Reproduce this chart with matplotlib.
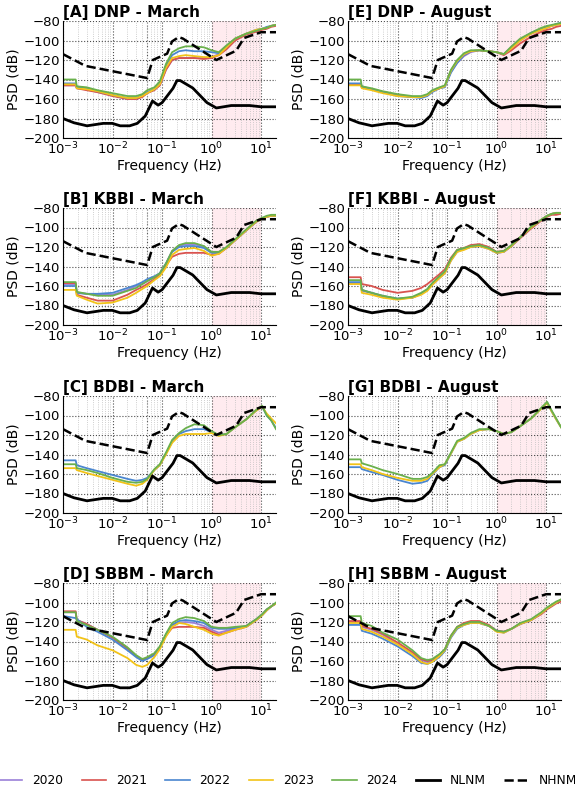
import matplotlib
matplotlib.use("Agg")
import matplotlib.pyplot as plt
from matplotlib.lines import Line2D

# ---------------- data ----------------
freq = [0.00105, 0.0018, 0.0019, 0.003, 0.005, 0.01, 0.02, 0.03, 0.04, 0.05,
        0.07, 0.09, 0.12, 0.16, 0.22, 0.3, 0.45, 0.7, 1.0, 1.4,
        2.0, 3.0, 5.0, 8.0, 10.5, 13.0, 16.0, 20.0]

years = ["2020", "2021", "2022", "2023", "2024"]
year_colors = ["#9b80d8", "#d9534f", "#4a86d0", "#f2c318", "#6ab04c"]

titles = ["[A] DNP - March", "[B] KBBI - March", "[C] BDBI - March", "[D] SBBM - March",
          "[E] DNP - August", "[F] KBBI - August", "[G] BDBI - August", "[H] SBBM - August"]

dnp_march = {
    "2020": [-146,-146,-149,-150,-153,-156,-160,-160,-157,-154,-150,-146,-130,-120,-118,-118,-118,-118,-117,-114,-107,-99,-93,-90,-88,-87,-85,-84],
    "2021": [-146,-146,-149,-151,-153,-157,-160,-160,-158,-154,-151,-146,-130,-120,-118,-118,-118,-119,-118,-115,-109,-100,-94,-91,-89,-88,-86,-85],
    "2022": [-144,-144,-148,-149,-152,-156,-159,-159,-156,-153,-150,-144,-126,-115,-111,-110,-111,-111,-112,-113,-106,-98,-93,-89,-88,-86,-85,-84],
    "2023": [-145,-145,-149,-150,-152,-156,-159,-159,-157,-154,-150,-145,-128,-118,-116,-115,-116,-117,-117,-115,-107,-98,-93,-89,-88,-87,-85,-84],
    "2024": [-140,-140,-147,-148,-151,-154,-157,-157,-155,-151,-148,-142,-124,-112,-108,-106,-106,-107,-110,-112,-105,-98,-93,-90,-88,-87,-85,-84],
}
kbbi_march = {
    "2020": [-158,-158,-167,-168,-169,-169,-164,-160,-158,-155,-151,-147,-137,-124,-119,-117,-117,-120,-125,-125,-121,-113,-103,-94,-91,-89,-88,-88],
    "2021": [-157,-157,-169,-172,-175,-175,-169,-164,-161,-158,-153,-148,-139,-130,-127,-126,-126,-126,-128,-127,-121,-113,-103,-94,-91,-89,-88,-88],
    "2022": [-160,-160,-167,-168,-168,-167,-162,-159,-156,-153,-150,-147,-137,-125,-120,-119,-119,-121,-126,-126,-121,-113,-103,-94,-91,-89,-88,-88],
    "2023": [-164,-164,-170,-174,-178,-177,-172,-167,-163,-160,-154,-150,-141,-128,-123,-122,-121,-124,-129,-127,-121,-113,-103,-94,-91,-89,-88,-88],
    "2024": [-156,-156,-166,-168,-170,-170,-165,-162,-158,-155,-151,-147,-137,-124,-118,-116,-116,-119,-125,-125,-120,-112,-102,-93,-90,-88,-87,-87],
}
bdbi_march = {
    "2022": [-146,-146,-151,-154,-157,-161,-165,-167,-166,-164,-156,-151,-139,-127,-119,-116,-114,-114,-117,-120,-119,-112,-104,-95,-91,-100,-105,-113],
    "2023": [-154,-154,-156,-159,-162,-166,-170,-172,-170,-166,-156,-151,-140,-128,-121,-119,-119,-119,-118,-121,-119,-112,-104,-95,-91,-98,-103,-108],
    "2024": [-150,-150,-154,-156,-159,-164,-168,-169,-168,-165,-155,-150,-138,-125,-118,-113,-109,-110,-116,-120,-119,-112,-104,-94,-90,-100,-105,-114],
}
sbbm_march = {
    "2020": [-110,-110,-118,-122,-128,-136,-147,-155,-159,-157,-153,-146,-133,-123,-121,-120,-121,-124,-128,-131,-129,-127,-124,-117,-112,-107,-104,-101],
    "2021": [-109,-109,-118,-122,-128,-136,-147,-155,-159,-157,-153,-146,-134,-126,-125,-125,-125,-126,-130,-133,-131,-128,-125,-118,-113,-108,-104,-101],
    "2022": [-114,-116,-117,-125,-130,-138,-149,-156,-160,-158,-154,-147,-133,-123,-119,-118,-119,-121,-126,-127,-127,-126,-125,-118,-113,-108,-104,-101],
    "2023": [-128,-128,-135,-138,-144,-149,-157,-164,-166,-164,-156,-148,-135,-125,-121,-122,-125,-128,-132,-134,-131,-128,-125,-118,-113,-108,-104,-101],
    "2024": [-110,-110,-119,-123,-128,-135,-146,-154,-158,-156,-152,-145,-132,-121,-117,-115,-116,-119,-125,-126,-126,-125,-124,-117,-112,-107,-104,-100],
}
dnp_august = {
    "2020": [-145,-145,-148,-150,-153,-156,-158,-158,-156,-152,-149,-147,-132,-123,-116,-112,-110,-111,-112,-114,-108,-100,-93,-89,-87,-85,-84,-83],
    "2021": [-145,-145,-148,-150,-153,-156,-158,-158,-156,-152,-149,-147,-131,-121,-115,-111,-110,-111,-112,-115,-110,-103,-96,-91,-89,-88,-86,-85],
    "2022": [-144,-144,-147,-150,-153,-157,-158,-159,-157,-153,-149,-148,-133,-123,-115,-111,-110,-111,-112,-114,-107,-99,-92,-88,-86,-85,-83,-82],
    "2023": [-146,-146,-149,-151,-154,-157,-158,-158,-156,-152,-149,-147,-131,-121,-114,-111,-110,-111,-112,-114,-108,-100,-93,-89,-87,-85,-84,-83],
    "2024": [-140,-140,-147,-149,-152,-155,-157,-157,-155,-151,-148,-146,-130,-120,-113,-110,-110,-111,-112,-114,-106,-98,-92,-87,-85,-84,-83,-82],
}
kbbi_august = {
    "2020": [-157,-157,-165,-167,-171,-173,-172,-168,-164,-159,-152,-147,-134,-125,-122,-120,-119,-122,-126,-125,-119,-110,-100,-92,-88,-86,-85,-85],
    "2021": [-151,-151,-158,-160,-164,-167,-165,-162,-158,-154,-148,-143,-131,-123,-121,-118,-117,-120,-125,-124,-119,-111,-101,-93,-89,-87,-87,-86],
    "2022": [-156,-156,-164,-167,-170,-173,-172,-168,-164,-158,-151,-146,-133,-124,-122,-120,-119,-121,-126,-125,-119,-110,-100,-92,-88,-86,-85,-85],
    "2023": [-158,-158,-167,-169,-172,-174,-172,-169,-165,-159,-152,-147,-134,-125,-123,-120,-119,-122,-126,-125,-119,-110,-100,-92,-88,-86,-85,-85],
    "2024": [-154,-154,-164,-167,-170,-173,-171,-167,-163,-157,-150,-145,-132,-123,-121,-119,-118,-121,-125,-124,-118,-110,-99,-92,-88,-86,-85,-85],
}
bdbi_august = {
    "2022": [-153,-153,-155,-158,-161,-166,-170,-169,-167,-161,-153,-151,-139,-127,-124,-119,-115,-114,-116,-119,-117,-111,-103,-93,-87,-96,-104,-112],
    "2023": [-150,-150,-153,-156,-160,-164,-167,-167,-165,-160,-153,-150,-139,-127,-124,-119,-115,-114,-116,-119,-117,-111,-103,-93,-87,-96,-104,-112],
    "2024": [-145,-145,-149,-152,-156,-160,-165,-165,-163,-159,-151,-150,-138,-126,-123,-118,-114,-114,-116,-119,-117,-111,-103,-92,-86,-95,-103,-112],
}
sbbm_august = {
    "2020": [-120,-120,-125,-128,-133,-142,-152,-159,-161,-160,-155,-149,-135,-126,-122,-120,-121,-124,-129,-130,-127,-122,-118,-111,-106,-103,-100,-98],
    "2021": [-119,-119,-124,-127,-132,-141,-151,-158,-160,-159,-154,-148,-134,-125,-121,-119,-119,-123,-129,-130,-127,-122,-118,-112,-107,-104,-101,-99],
    "2022": [-123,-123,-129,-132,-137,-145,-155,-162,-163,-161,-156,-150,-136,-127,-123,-121,-121,-124,-129,-131,-127,-122,-118,-111,-106,-103,-100,-97],
    "2023": [-121,-121,-127,-130,-135,-143,-153,-161,-163,-161,-155,-149,-135,-126,-123,-121,-121,-124,-130,-131,-127,-122,-118,-111,-106,-103,-100,-97],
    "2024": [-114,-114,-121,-124,-131,-138,-149,-157,-159,-158,-153,-148,-134,-125,-122,-120,-120,-124,-129,-130,-127,-121,-117,-110,-105,-102,-99,-97],
}

panels = [dnp_march, kbbi_march, bdbi_march, sbbm_march,
          dnp_august, kbbi_august, bdbi_august, sbbm_august]

# Peterson (1993) noise models, breakpoints in frequency
nlnm_freq = [0.001, 0.001667, 0.00305, 0.00649, 0.0099, 0.01429, 0.0222, 0.0316, 0.0457,
             0.0641, 0.0833, 0.1, 0.1667, 0.2, 0.2326, 0.4167, 0.806, 1.25, 2.5, 5.88, 10.0, 20.0]
nlnm_db = [-180.0, -184.4, -187.5, -185.0, -185.0, -187.5, -187.5, -185.0, -177.5,
           -162.1, -166.3, -163.8, -149.0, -141.1, -141.1, -148.7, -163.7, -169.2, -166.7, -166.7, -168.0, -168.0]
nhnm_freq = [0.001, 0.00282, 0.05, 0.0649, 0.1266, 0.159, 0.217, 0.263, 1.25, 3.125, 4.545, 10.0, 20.0]
nhnm_db = [-114.0, -126.0, -138.5, -120.0, -113.5, -101.0, -96.5, -98.0, -120.0, -110.5, -97.4, -91.5, -91.5]

# ---------------- figure ----------------
fig = plt.figure(figsize=(5.75, 7.91), dpi=100)

W, H = 575.0, 791.0
col_left = [63, 348]
row_top = [21, 208, 396, 583]
aw, ah = 213, 117

for i, (title, data) in enumerate(zip(titles, panels)):
    col = i // 4
    row = i % 4
    ax = fig.add_axes([col_left[col] / W, 1 - (row_top[row] + ah) / H, aw / W, ah / H])
    ax.set_xscale("log")
    ax.axvspan(1, 10, color="pink", alpha=0.3, lw=0, zorder=0)
    ax.axvline(0.05, color="0.3", ls=":", lw=0.8, zorder=0.5)
    for y, c in zip(years, year_colors):
        if y in data:
            ax.plot(freq, data[y], color=c, lw=1.3, zorder=2)
    ax.plot(nlnm_freq, nlnm_db, color="black", lw=2.0, zorder=3)
    ax.plot(nhnm_freq, nhnm_db, color="black", lw=1.8, ls="--", zorder=3)
    ax.set_xlim(1e-3, 20)
    ax.set_ylim(-200, -80)
    ax.set_yticks([-200, -180, -160, -140, -120, -100, -80])
    ax.grid(which="major", color="0.3", ls=":", lw=0.8)
    ax.grid(which="minor", axis="x", color="0.75", ls=":", lw=0.6)
    ax.set_axisbelow(True)
    for s in ["top", "right"]:
        ax.spines[s].set_visible(False)
    for s in ["left", "bottom"]:
        ax.spines[s].set_color("black")
        ax.spines[s].set_linewidth(0.8)
    ax.tick_params(which="both", length=0, labelsize=9.5, pad=2)
    ax.set_xlabel("Frequency (Hz)", fontsize=10, labelpad=1)
    ax.set_ylabel("PSD (dB)", fontsize=10, labelpad=2)
    ax.set_title(title, loc="left", fontsize=11, fontweight="bold", pad=3)

handles = [Line2D([], [], color=c, lw=1.2) for c in year_colors]
handles += [Line2D([], [], color="black", lw=2.0),
            Line2D([], [], color="black", lw=1.8, ls="--")]
labels = years + ["NLNM", "NHNM"]
fig.legend(handles, labels, loc="center", bbox_to_anchor=(0.5, 1 - 781 / H),
           ncol=7, frameon=False, fontsize=8.8, handlelength=2.0,
           handletextpad=0.8, columnspacing=1.5)

fig.savefig("out.png", dpi=100)
